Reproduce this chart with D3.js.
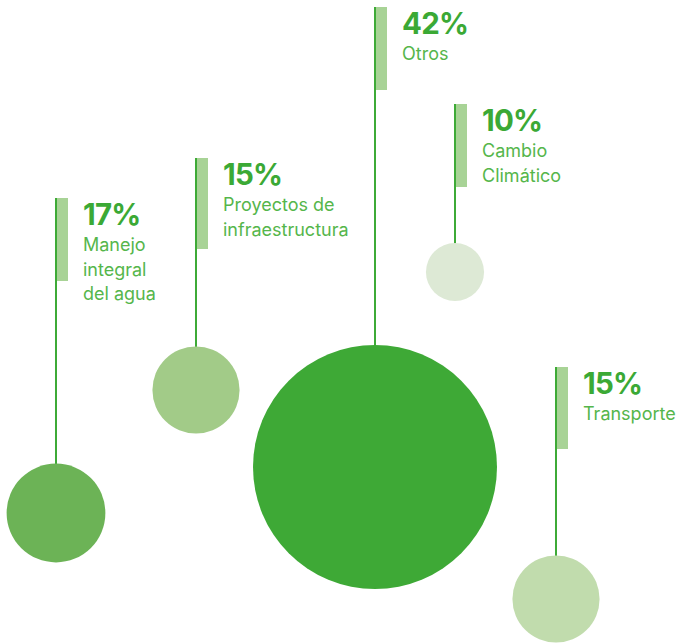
<!DOCTYPE html>
<html><head><meta charset="utf-8">
<script src="https://cdn.jsdelivr.net/npm/d3@7"></script>
<style>html,body{margin:0;padding:0;background:#fff;}svg{display:block;}</style>
</head><body>
<script>
// ---- data ----
const categories = ["Manejo integral del agua", "Proyectos de infraestructura", "Otros", "Cambio Climático", "Transporte"];
const values = [17, 15, 42, 10, 15];
const labelLines = [["Manejo", "integral", "del agua"], ["Proyectos de", "infraestructura"], ["Otros"], ["Cambio", "Climático"], ["Transporte"]];
const bubbleColors = ["#6cb356", "#a2cb88", "#3ea936", "#dde9d5", "#c1dcad"];

// ---- layout (positions, not data) ----
const layout = [
  {cx: 56,  cy: 513, top: 198, bar: 83},
  {cx: 196, cy: 390, top: 158, bar: 91},
  {cx: 375, cy: 467, top: 7,   bar: 83},
  {cx: 455, cy: 272, top: 104, bar: 83},
  {cx: 556, cy: 599, top: 367, bar: 82}
];

const W = 681, H = 643;
const svg = d3.select("body").append("svg").attr("width", W).attr("height", H);

const r = d3.scaleLinear().domain([0, 42]).range([0, 122]);

const items = categories.map((c, i) => ({c, v: values[i], lines: labelLines[i], col: bubbleColors[i], ...layout[i]}));

const g = svg.selectAll("g.item").data(items).join("g").attr("class", "item");

// light bar
g.append("rect")
  .attr("x", d => d.cx).attr("y", d => d.top)
  .attr("width", 12).attr("height", d => d.bar)
  .attr("fill", "#a8d396");

// stem
g.append("line")
  .attr("x1", d => d.cx).attr("x2", d => d.cx)
  .attr("y1", d => d.top).attr("y2", d => d.cy - r(d.v) + 2)
  .attr("stroke", "#3eaa37").attr("stroke-width", 2);

// bubble
g.append("circle")
  .attr("cx", d => d.cx).attr("cy", d => d.cy)
  .attr("r", d => r(d.v))
  .attr("fill", d => d.col);

// percentage
g.append("text")
  .attr("x", d => d.cx + 27).attr("y", d => d.top + 27)
  .attr("font-family", "Inter, 'Noto Sans', sans-serif")
  .attr("font-weight", 700).attr("font-size", 29.5)
  .attr("letter-spacing", -0.8)
  .attr("fill", "#3ba935")
  .text(d => d.v + "%");

// label lines
g.each(function(d) {
  const t = d3.select(this).append("text")
    .attr("font-family", "Inter, 'Noto Sans', sans-serif")
    .attr("font-size", 18).attr("fill", "#55b64b");
  d.lines.forEach((ln, j) => {
    t.append("tspan").attr("x", d.cx + 27).attr("y", d.top + 53 + j * 24.5).text(ln);
  });
});
</script>
</body></html>
